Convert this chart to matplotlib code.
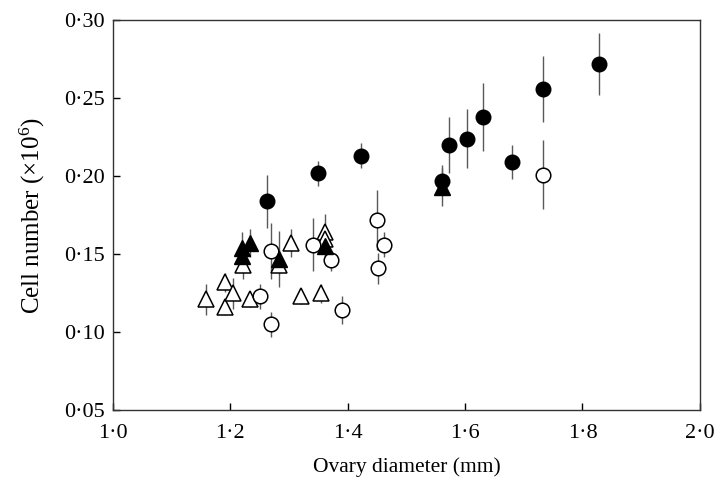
import matplotlib.pyplot as plt
import numpy as np

plt.rcParams['font.family'] = ['Liberation Serif', 'DejaVu Serif']
plt.rcParams['mathtext.fontset'] = 'custom'
plt.rcParams['mathtext.rm'] = 'Liberation Serif'
plt.rcParams['mathtext.it'] = 'Liberation Serif'

# filled circles
fc_x = np.array([1.262, 1.350, 1.422, 1.561, 1.573, 1.603, 1.631, 1.680, 1.732, 1.829])
fc_y = np.array([0.184, 0.202, 0.213, 0.197, 0.220, 0.224, 0.238, 0.209, 0.256, 0.272])
fc_e = np.array([0.017, 0.008, 0.008, 0.010, 0.018, 0.019, 0.022, 0.011, 0.021, 0.020])

# open circles
oc_x = np.array([1.270, 1.270, 1.251, 1.340, 1.371, 1.391, 1.450, 1.462, 1.451, 1.733])
oc_y = np.array([0.152, 0.105, 0.123, 0.156, 0.146, 0.114, 0.172, 0.156, 0.141, 0.201])
oc_e = np.array([0.018, 0.008, 0.008, 0.017, 0.007, 0.009, 0.019, 0.008, 0.010, 0.022])

# filled triangles
ft_x = np.array([1.219, 1.234, 1.219, 1.282, 1.362, 1.561])
ft_y = np.array([0.154, 0.157, 0.149, 0.147, 0.155, 0.193])
ft_e = np.array([0.010, 0.009, 0.008, 0.018, 0.010, 0.012])

# open triangles
ot_x = np.array([1.159, 1.190, 1.190, 1.204, 1.221, 1.234, 1.304, 1.282, 1.321, 1.354, 1.362, 1.362])
ot_y = np.array([0.121, 0.132, 0.116, 0.125, 0.143, 0.121, 0.157, 0.143, 0.123, 0.125, 0.164, 0.160])
ot_e = np.array([0.010, 0.006, 0.005, 0.010, 0.009, 0.005, 0.009, 0.006, 0.005, 0.006, 0.012, 0.005])

fig = plt.figure(figsize=(7.2, 4.93), dpi=100)
ax = fig.add_axes([0.157, 0.168, 0.815, 0.791])

ebkw = dict(fmt='none', ecolor='0.35', elinewidth=1.0, capsize=0, zorder=1)
for x, y, e in [(ot_x, ot_y, ot_e), (ft_x, ft_y, ft_e), (oc_x, oc_y, oc_e), (fc_x, fc_y, fc_e)]:
    ax.errorbar(x, y, yerr=e, **ebkw)

ax.plot(ot_x, ot_y, '^', ms=11, mfc='white', mec='black', mew=1.1, ls='none', zorder=2)
ax.plot(ft_x, ft_y, '^', ms=11, mfc='black', mec='black', ls='none', zorder=3)
ax.plot(oc_x, oc_y, 'o', ms=10.5, mfc='white', mec='black', mew=1.1, ls='none', zorder=2)
ax.plot(fc_x, fc_y, 'o', ms=10.5, mfc='black', mec='black', ls='none', zorder=3)

ax.set_xlim(1.0, 2.0)
ax.set_ylim(0.05, 0.30)
xt = [1.0, 1.2, 1.4, 1.6, 1.8, 2.0]
yt = [0.05, 0.10, 0.15, 0.20, 0.25, 0.30]
ax.set_xticks(xt)
ax.set_xticklabels([('%.1f' % v).replace('.', '\u00b7') for v in xt])
ax.set_yticks(yt)
ax.set_yticklabels([('%.2f' % v).replace('.', '\u00b7') for v in yt])
ax.tick_params(direction='in', length=5, width=1, labelsize=16, pad=6)
ax.tick_params(axis='x', pad=10)
for s in ax.spines.values():
    s.set_linewidth(1.0)
    s.set_color('0.2')

ax.set_xlabel('Ovary diameter (mm)', fontsize=15.5, labelpad=10)
ax.set_ylabel(r'Cell number (×10$^6$)', fontsize=18, labelpad=12)

plt.savefig('out.png', dpi=100)
